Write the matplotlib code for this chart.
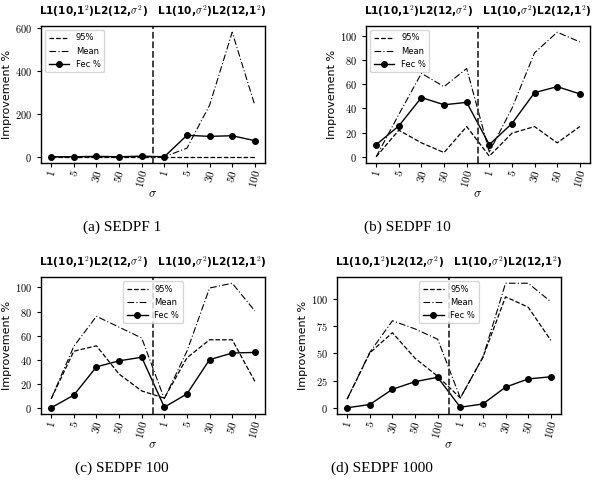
import numpy as np
import matplotlib
matplotlib.use('Agg')
import matplotlib.pyplot as plt
from matplotlib.ticker import FuncFormatter

plt.rcParams['mathtext.fontset'] = 'cm'
plt.rcParams['font.family'] = 'DejaVu Sans'

# etiquetas del eje x (sigma)
sigma_labels = ['1', '5', '30', '50', '100', '1', '5', '30', '50', '100']

# SEDPF 1
a_95 = [0, 0, 0, 0, 0, 0, 0, 0, 0, 0]
a_mean = [0, 0, 0, 0, 0, 0, 40, 240, 580, 240]
a_fec = [0, 0, 2, 0, 3, 0, 100, 95, 98, 75]

# SEDPF 10
b_95 = [0, 22, 11.5, 3.5, 25, 0.5, 19.5, 25, 11.5, 25]
b_mean = [0, 35, 69, 58, 73, 4, 40, 86, 103, 95]
b_fec = [10, 25.5, 49, 43, 45, 10, 27.5, 53, 58, 52]

# SEDPF 100
c_95 = [7.5, 47, 51.5, 28, 14, 8, 41.5, 56.5, 56.5, 22]
c_mean = [7.5, 51, 76, 67, 58, 7.5, 47, 99.5, 103.5, 80.5]
c_fec = [0, 10.5, 34, 39, 42, 0.5, 11.5, 40, 45.5, 46]

# SEDPF 1000
d_95 = [8, 50.5, 69, 45.5, 29, 9, 46.5, 102, 92.5, 62]
d_mean = [8, 51, 80, 72.5, 63, 9, 46.5, 114.5, 114.5, 97.5]
d_fec = [0, 3, 17, 24, 28, 0.5, 3.5, 19, 26.5, 28.5]

captions = ['(a) SEDPF 1', '(b) SEDPF 10', '(c) SEDPF 100', '(d) SEDPF 1000']

title = r'L1(10,1$^2$)L2(12,$\sigma^2$)   L1(10,$\sigma^2$)L2(12,1$^2$)'

W, H = 598, 494
fig = plt.figure(figsize=(W / 100, H / 100), dpi=100)

# posiciones de los ejes en pixeles: izquierda, arriba
boxes = [(41, 26), (366, 26), (41, 277), (337, 277)]
aw, ah = 224, 137
legend_loc = ['upper left', 'upper left', 'upper center', 'upper center']
cap_pos = [(122, 227), (407, 227), (122, 468), (382, 468)]

datos = [(a_95, a_mean, a_fec), (b_95, b_mean, b_fec),
         (c_95, c_mean, c_fec), (d_95, d_mean, d_fec)]

x = np.arange(len(sigma_labels))

for i, (p95, mean, fec) in enumerate(datos):
    l, t = boxes[i]
    ax = fig.add_axes([l / W, 1 - (t + ah) / H, aw / W, ah / H])
    ax.plot(x, p95, 'k--', lw=0.9, label='95%')
    ax.plot(x, mean, color='k', lw=0.8, dashes=(6, 2, 1, 2), label='Mean')
    ax.plot(x, fec, 'k-', lw=1.0, marker='o', ms=4, label='Fec %')
    ax.axvline(4.5, color='#333333', ls='--', lw=1.3)

    ax.set_xticks(x)
    ax.set_xticklabels(['$' + s + '$' for s in sigma_labels], rotation=75, fontsize=8)
    ax.yaxis.set_major_formatter(FuncFormatter(lambda v, p: '$%g$' % v))
    ax.tick_params(axis='y', labelsize=7.5, length=3)
    ax.tick_params(axis='x', length=3, pad=1)
    for s in ax.spines.values():
        s.set_linewidth(1.0)

    ax.set_ylabel('Improvement %', fontsize=8, labelpad=2)
    ax.set_xlabel(r'$\sigma$', fontsize=9)
    ax.xaxis.set_label_coords(0.5, -0.175)
    ax.set_title(title, fontsize=7.6, fontweight='bold', pad=8)
    ax.legend(loc=legend_loc[i], fontsize=6, handlelength=2.5)

    cx, cy = cap_pos[i]
    fig.text(cx / W, 1 - cy / H, captions[i], ha='center', va='center',
             fontsize=11, family='Liberation Serif')

fig.savefig('out.png', dpi=100)
